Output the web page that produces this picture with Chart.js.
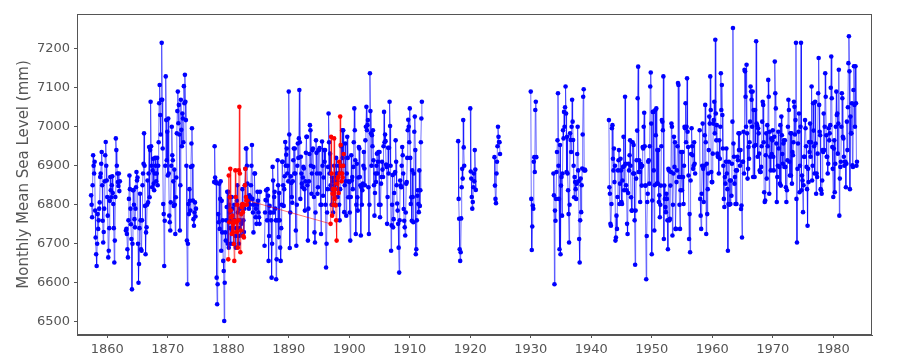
<!DOCTYPE html>
<html>
<head>
<meta charset="utf-8">
<script src="https://cdn.jsdelivr.net/npm/chart.js@4.4.1/dist/chart.umd.min.js"></script>
<style>
  html, body { margin: 0; padding: 0; background: #fff; }
  #wrap { width: 900px; height: 360px; }
</style>
</head>
<body>
<div id="wrap"><canvas id="seaLevelChart" width="900" height="360"></canvas></div>
<script>
// tick labels
const xTicks = [1860, 1870, 1880, 1890, 1900, 1910, 1920, 1930, 1940, 1950, 1960, 1970, 1980];
const yTicks = [6500, 6600, 6700, 6800, 6900, 7000, 7100, 7200];

// monthly means (mm), each run starts at [year, month]
const blue1857 = [
  6824, 6800, 6768, 6850, 6927, 6900, 6880, 6910,
  6785, 6716, 6673, 6643, 6700, 6776, 6738, 6760, 6790, 6806, 6871, 6880,
  6905, 6935, 6850, 6759, 6703, 6730, 6790, 6860, 6927, 6961, 6900, 6862,
  6820, 6772, 6665, 6682, 6740, 6810, 6871, 6837, 6819, 6850, 6873, 6830,
  6802, 6740, 6652, 6708, 6820, 6970, 6940, 6900, 6880, 6858, 6848, 6880,
  6835, 6860
];
const blue1863 = [
  6734, 6738, 6725, 6686, 6665, 6760, 6815, 6875, 6840, 6790, 6750,
  6712, 6583, 6700, 6837, 6837, 6800, 6763, 6742, 6790, 6845, 6884, 6862,
  6870, 6700, 6600, 6648, 6740, 6828, 6760, 6686, 6682, 6760, 6850, 6880,
  6905, 6983, 6900, 6797, 6673, 6729, 6742, 6800, 6862, 6806, 6880, 6948,
  6819, 6940, 7064, 6950, 6900, 6845, 6888, 6918, 6854, 6837, 6880, 6920,
  6900, 6860, 6880, 6920, 6850, 6900, 6960, 7060, 7107, 7030, 6980, 7069,
  7215, 7069, 6944, 6802, 6776, 6643, 6759, 6900, 7129, 7017, 6914, 6987,
  6875, 7021, 6880, 6772, 6755, 6734, 6806, 6900, 7000, 6927, 6914, 6860,
  6797, 6890, 6800, 6725, 6819, 6870, 6983, 7040, 7090, 7009, 7056, 6980,
  6734, 6850, 7069, 6992, 6950, 7034, 7021, 6960, 7104, 7060, 7133, 7064,
  7017, 6900, 6708, 6596, 6700, 6802, 6776, 6840, 6810, 6785, 6897, 6957,
  6996, 6900, 6811, 6763, 6746, 6780, 6806, 6770, 6790
];
const blue1877 = [
  6858, 6950, 6870, 6860,
  6855, 6613, 6545, 6596, 6776, 6755, 6854, 6738, 6815, 6860, 6682, 6810,
  6729, 6760, 6656, 6630, 6502, 6600, 6729, 6708, 6760, 6794, 6833, 6700,
  6833, 6690, 6800, 6780, 6740, 6700, 6760, 6820, 6790, 6740, 6700, 6760,
  6800, 6760, 6720, 6690, 6740, 6810, 6850, 6780, 6720, 6700, 6740, 6790,
  6760, 6721, 6751, 6800, 6840, 6800, 6760, 6730, 6790, 6850, 6892, 6944,
  6944, 6900, 6854, 6819, 6811, 6790, 6824, 6800, 6819, 6850, 6900, 6953,
  6815, 6780, 6729, 6800, 6880, 6880, 6768, 6790, 6751, 6800, 6833, 6810,
  6780, 6768, 6751, 6833
];
const blue1886 = [
  6695, 6780, 6812, 6837, 6811, 6760, 6840, 6823, 6656, 6720, 6797, 6780,
  6780, 6760, 6613, 6700, 6897, 6862, 6780, 6820, 6833, 6790, 6760, 6609,
  6660, 6760, 6914, 6850, 6717, 6830, 6760, 6690, 6656, 6740, 6800, 6910,
  6910, 6850, 6797, 6840, 6873, 6961, 6900, 6928, 6944, 6880, 6900, 6860,
  7090, 6980, 6689, 6780, 6873, 6856, 6820, 6805, 6860, 6914, 6944, 6880,
  6944, 6880, 6734, 6695, 6800, 6900, 6957, 6920, 6970, 7094, 6960, 6815,
  6923, 6880, 6854, 6845, 6870, 6897, 6893, 6840, 6785, 6860, 6933, 6974,
  6974, 6850, 6708, 6790, 6860, 6930, 7004, 6991, 6900, 6828, 6880, 6940,
  6944, 6897, 6820, 6729, 6703, 6780, 6965, 6933, 6880, 6828, 6845, 6940,
  6940, 6945, 6880, 6800, 6725, 6800, 6962, 6900, 6823, 6870, 6940, 6910,
  6940, 6800, 6639, 6700, 6780, 6840, 6897, 7034, 6960, 6880, 6931, 6850,
  6840, 6800, 6870, 6860, 6780, 6830, 6900, 6850, 6800, 6870, 6920, 6880,
  6860, 6820, 6880, 6900, 6800, 6760, 6840, 6900, 6950, 6880, 6991, 6920,
  6991, 6900, 6781, 6850, 6957, 6860, 6772, 6880, 6974, 6920, 6819, 6860,
  6858, 6780, 6708, 6820, 6927, 6862, 6871, 6840, 6897, 6960, 7047, 6991,
  6914, 6725, 6800, 6905, 6819, 6785, 6870, 6948, 6944, 6871, 6850, 6721,
  6845, 6800, 6837, 6854, 6900, 6935, 6893, 6850, 6965, 7000, 7051, 6991,
  7004, 7017, 6845, 6725, 6800, 7137, 7040, 6983, 6900, 6978, 6950, 6991,
  6914, 6850, 6772, 6830, 6880, 6858, 6900, 6931, 6880, 6910, 6935, 6800,
  6935, 6768, 6800, 6854, 6871, 6910, 6890, 6871, 6950, 7038, 6960, 6980,
  6963, 6903, 6897, 6751, 6820, 6946, 6880, 6946, 7064, 7002, 6900, 6682,
  6747, 6800, 6876, 6742, 6763, 6830, 6880, 6884, 6965, 6910, 6850, 6803,
  6785, 6751, 6690, 6626, 6760, 6862, 6849, 6845, 6900, 6948, 6927, 6880,
  6789, 6759, 6742, 6721, 6780, 6854, 6858, 6920, 6991, 7018, 7000, 6960,
  7047, 6920, 6802, 6819, 6759, 6888, 6820, 6755, 6880, 6987, 7026, 6940,
  6673, 6686, 6760, 6823, 6837, 6802, 6781, 6888, 6797, 6837, 6960, 7021,
  7064
];
const blue1918 = [6963, 6815, 6764, 6686, 6656, 6678, 6765, 6845, 6892, 6867, 7017, 6947, 6900];
const blue1920 = [7047, 6885, 6867, 6820, 6790, 6807, 6845, 6880, 6860, 6940, 6890, 6838];
const blue1924 = [6922, 6849, 6815, 6804, 6880, 6910, 6950, 7000, 6974, 6961, 6960, 6930];
const blue1930 = [7090, 6815, 6684, 6744, 6798, 6790, 6910, 6922, 6884, 7043, 7064, 6922];
const blue1933 = [
  6880, 6824, 6596,
  6785, 6759, 6815, 6884, 6935, 6965, 7086, 6900, 6815, 6686, 6953, 6673,
  6849, 6871, 6772, 6880, 6991, 6970, 7038, 7000, 7050, 7103, 7034, 6884,
  6974, 6880, 6837, 6776, 6703, 6800, 6983, 6966, 6935, 7000, 7069, 7013,
  6966, 6900, 6819, 6871, 6858, 6840, 6815, 6854, 6930, 7000, 6888, 6860,
  6712, 6652, 6760, 6867, 6781, 6850, 6893, 6980, 7077, 7096, 6888, 6890,
  6888
];
const blue1942 = [
  7017,
  6845, 6828, 6751, 6746, 6802, 6996, 7004, 6918, 6888, 6944, 6858, 6900,
  6708, 6716, 6772, 6738, 6820, 6888, 6914, 6940, 6802, 6854, 6918, 6888,
  6807, 6802, 6862, 6897, 6974, 6837, 6900, 7077, 6905, 6850, 6837, 6751,
  6725, 6830, 6905, 6888, 6927, 6965, 6900, 6819, 6785, 6785, 6960, 6880,
  6953, 6880, 6760, 6646, 6785, 6867, 6914, 6990, 7073, 7154, 6884, 6914,
  6884, 6807, 6905, 6897, 6849, 6900, 6948, 6944, 7000, 7036, 6950, 6849,
  6849, 6609, 6720, 6807, 6828, 6910, 6914, 6854, 6950, 7103, 7139, 7008,
  6673, 6811, 7038, 7038, 6888, 6734, 6850, 7043, 6978, 7047, 6854, 6940,
  6854, 6940, 6807, 6824, 6768, 6800, 6849, 6950, 7017, 7013, 6991, 7129,
  6712, 6849, 6815, 6794, 6781, 6828, 6815, 6760, 6686, 6892, 6888, 6760,
  6764, 6849, 6884, 7008, 7000, 6721, 6800, 6880, 6974, 6897, 6960, 6738,
  6738, 6858, 6888, 6950, 7112, 7107, 6871, 6800, 6738, 6837, 6935, 6871,
  6837, 6935, 6871, 6802, 6900, 7000, 6996, 7060, 6960, 7000, 7124, 6987,
  6948, 6875, 6712, 6776, 6678, 6862, 6930, 6996, 6950, 6927, 6892, 6900,
  6960, 6905, 6880
];
const blue1957 = [
  6991,
  6815, 6772, 6738, 6828, 6900, 7008, 6892, 6807, 6900, 6978, 7056, 6960,
  6725, 6905, 6776, 6840, 6880, 6940, 7026, 7008, 7129, 7043, 6884, 6858,
  6858, 6931, 7008, 7017, 7064, 6983, 7223, 7034, 6965, 7004, 6931, 6923,
  6923, 6880, 6965, 6918, 7000, 7137, 7043, 7107, 7030, 6944, 6900, 6815,
  6794, 6871, 6854, 6910, 6944, 6880, 6840, 6682, 6802, 6910, 6800, 6862,
  6802, 6862, 6823, 6905, 7013, 7253, 6957, 6923, 6854, 6871, 6802, 6888,
  6802, 6888, 6923, 6914, 6983, 6940, 6983, 6900, 6940, 6789, 6798, 6716,
  6910, 6910, 6987, 6880, 7146, 7142, 7077, 7000, 7159, 6983, 6867, 6892,
  6948, 6918, 6960, 7013, 7103, 7090, 7069, 7000, 7090, 6871, 7043, 6950,
  6871, 7043, 6953, 7219, 7008, 7004, 6923, 6996, 6983, 6931, 6888, 6884,
  6884, 6897, 6950, 7013, 7064, 7056, 6960, 6832, 6807, 6811, 6927, 6983,
  6867, 7004, 6950, 7120, 7077, 6828, 6987, 6923, 6888, 6970, 6930, 6965,
  6991, 6923, 6888, 6974, 7167, 7086, 7047, 6957, 6807, 6871, 6900, 6987,
  6944, 6897, 6854, 7004, 6849, 7026, 6978, 6930, 6905, 6957, 6965, 6897,
  6965, 6897, 6845, 6807, 6837, 6914, 7000, 7069, 7043, 6910, 6875, 6983,
  6875, 6983, 6854, 6935, 6927, 6960, 7064, 7051, 6980, 7017, 7215, 6815,
  6703, 6892, 6957, 6987, 7034, 6832, 6900, 7000, 7215, 6837, 6875, 6862,
  6781, 6850, 6923, 6923, 7017, 6996, 6950, 6897, 6840, 6746, 6892, 6858,
  6961, 6935, 7008, 6923, 6960, 7103, 6862, 6900, 7060, 6990, 6950, 6880,
  7064, 6957, 6828, 6880, 6871, 6931, 7086, 7176, 7056, 6987, 6978, 6840,
  6837, 6828, 6862, 6940, 6935, 7034, 6940, 7000, 7137, 7077, 6978, 6923,
  6923, 6880, 6905, 6996, 6965, 6983, 7004, 7100, 7180, 7073, 6948, 6892,
  6820, 6944, 6965, 6832, 6905, 7000, 7090, 7030, 7034, 6931, 7008, 7146,
  6772, 6867, 6897, 6910, 7000, 7086, 7073, 6974, 6970, 6923, 6900, 6910,
  6910, 6845, 6905, 7013, 6940, 7050, 7163, 7232, 7142, 6840, 7026, 6983,
  6983, 7060, 6901, 6897, 7094, 7155, 7056, 7000, 7155, 7060, 6900, 6910
];

// second (red) record
const red1880 = [
  6660, 6875, 6755, 6819, 6892, 6785, 6768, 6725, 6772, 6729, 6751, 6699,
  6656, 6759, 6888, 6820, 6755, 6730, 6800, 6690, 6760, 6888, 7051, 6880,
  6678, 6734, 6776, 6794, 6802, 6781, 6720, 6716, 6800, 6850, 6892, 6820,
  6811, 6800, 6811
];
const red1896 = [
  6751, 6974, 6880, 6772, 6828, 6840, 6800, 6970, 6815, 6840, 6798, 6760,
  6708, 6854, 6867, 6871, 6830, 6910, 6880, 7026, 6953, 6900, 6860, 6880,
  6870, 6900, 6930
];

const blueRuns = [
  [1857, 5, blue1857], [1863, 2, blue1863], [1877, 9, blue1877], [1886, 1, blue1886],
  [1918, 1, blue1918], [1920, 1, blue1920], [1924, 1, blue1924], [1930, 1, blue1930],
  [1933, 10, blue1933], [1942, 12, blue1942], [1957, 12, blue1957]
];
const redRuns = [[1880, 1, red1880], [1896, 12, red1896]];

// turn runs into {x, y}; a null point between runs breaks the line
function buildPoints(runs, breakLine) {
  const pts = [];
  runs.forEach(([year, month, values], r) => {
    if (r > 0 && breakLine) pts.push({ x: year + (month - 1.5) / 12, y: null });
    values.forEach((v, i) => pts.push({ x: year + (month - 1 + i) / 12, y: v }));
  });
  return pts;
}

const ctx = document.getElementById('seaLevelChart').getContext('2d');
const grey = '#555555';
const fontFamily = "'DejaVu Sans', Verdana, sans-serif";

const framePlugin = {
  id: 'frame',
  afterDraw(chart) {
    const a = chart.chartArea;
    const c = chart.ctx;
    c.save();
    c.strokeStyle = grey;
    c.lineWidth = 1;
    c.strokeRect(a.left + 0.5, a.top + 0.5, a.right - a.left - 1, a.bottom - a.top - 1);
    c.restore();
  }
};

new Chart(ctx, {
  type: 'line',
  data: {
    datasets: [
      {
        label: 'red',
        data: buildPoints(redRuns, false),
        borderColor: 'rgba(255,0,0,0.55)',
        borderWidth: 1,
        pointRadius: 2.3,
        pointBorderWidth: 0,
        pointBackgroundColor: '#ff0000'
      },
      {
        label: 'blue',
        data: buildPoints(blueRuns, true),
        borderColor: 'rgba(0,0,255,0.55)',
        borderWidth: 1,
        pointRadius: 2.3,
        pointBorderWidth: 0,
        pointBackgroundColor: '#0000ff',
        spanGaps: false
      }
    ]
  },
  options: {
    responsive: false,
    animation: false,
    layout: { padding: { left: 0, right: 28, top: 14, bottom: 0 } },
    plugins: { legend: { display: false }, tooltip: { enabled: false } },
    scales: {
      x: {
        type: 'linear',
        min: 1855,
        max: 1986.4,
        afterBuildTicks: s => { s.ticks = xTicks.map(v => ({ value: v })); },
        afterFit: s => { s.height = 25; },
        ticks: {
          callback: v => String(v),
          color: grey,
          font: { family: fontFamily, size: 13 },
          padding: 4,
          maxRotation: 0,
          autoSkip: false
        },
        grid: { drawOnChartArea: false, drawTicks: true, tickLength: 3, color: grey },
        border: { display: true, color: grey }
      },
      y: {
        type: 'linear',
        min: 6466,
        max: 7289,
        afterBuildTicks: s => { s.ticks = yTicks.map(v => ({ value: v })); },
        afterFit: s => { s.width = 77; },
        ticks: {
          callback: v => String(v),
          color: grey,
          font: { family: fontFamily, size: 13 },
          padding: 4
        },
        grid: { drawOnChartArea: false, drawTicks: true, tickLength: 3, color: grey },
        border: { display: true, color: grey },
        title: {
          display: true,
          text: 'Monthly Mean Sea Level (mm)',
          color: grey,
          font: { family: fontFamily, size: 15 },
          padding: { top: 15, bottom: 0 }
        }
      }
    }
  },
  plugins: [framePlugin]
});
</script>
</body>
</html>
